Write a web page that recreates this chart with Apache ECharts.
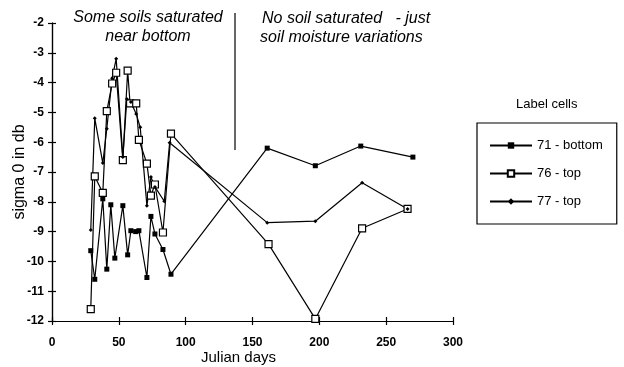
<!DOCTYPE html>
<html>
<head>
<meta charset="utf-8">
<script src="https://cdn.jsdelivr.net/npm/echarts@6/dist/echarts.min.js"></script>
<style>html,body{margin:0;padding:0;background:#fff}#c{width:624px;height:367px}</style>
</head>
<body>
<div id="c"></div>
<script>
const days71 = [29, 32, 38, 41, 44, 47, 53, 56.6, 59, 62.6, 65, 71, 74, 77, 83, 89, 161, 197, 231, 270];
const vals71 = [-9.64, -10.6, -7.9, -10.26, -8.1, -9.89, -8.13, -9.78, -8.97, -9.0, -8.97, -10.54, -8.49, -9.08, -9.6, -10.43, -6.2, -6.79, -6.13, -6.5];
const days76 = [29, 32, 38, 41, 45, 48, 53, 56.6, 58.4, 63, 65, 71, 74, 77, 83, 89, 162, 197, 232, 266];
const vals76 = [-11.6, -7.15, -7.7, -4.96, -4.03, -3.67, -6.6, -3.6, -4.7, -4.7, -5.92, -6.72, -7.79, -7.42, -9.03, -5.71, -9.42, -11.93, -8.89, -8.24];
const days77 = [29, 32, 38, 41, 45, 48, 53, 56, 59, 63, 66, 71, 74, 77, 84, 88, 161, 197, 232, 266];
const vals77 = [-8.95, -5.2, -6.7, -5.55, -3.85, -3.2, -6.5, -4.55, -4.65, -5.05, -5.5, -8.13, -7.17, -7.5, -7.98, -6.02, -8.7, -8.65, -7.36, -8.24];
const seriesNames = ['71 - bottom', '76 - top', '77 - top'];
const xTicks = {min: 0, max: 300, interval: 50};
const yTicks = {min: -12, max: -2, interval: 1};

const pairs = (d, v) => d.map((x, i) => [x, v[i]]);
const font = 'Liberation Sans, Arial, sans-serif';
const lineStyle = {color: '#000', width: 1.2};

const chart = echarts.init(document.getElementById('c'), null, {renderer: 'canvas'});
const baseX = {
  type: 'value', min: xTicks.min, max: xTicks.max, interval: xTicks.interval,
  axisLine: {show: true, onZero: false, lineStyle: {color: '#000', width: 1.2}},
  splitLine: {show: false}
};
const baseY = {
  type: 'value', min: yTicks.min, max: yTicks.max, interval: yTicks.interval,
  axisLine: {show: true, onZero: false, lineStyle: {color: '#000', width: 1.2}},
  splitLine: {show: false}
};
chart.setOption({
  animation: false,
  backgroundColor: '#fff',
  textStyle: {fontFamily: font, color: '#000'},
  grid: {left: 52, right: 171, top: 23, bottom: 46, containLabel: false, outerBoundsMode: 'none'},
  xAxis: [
    Object.assign({}, baseX, {
      position: 'bottom',
      name: 'Julian days', nameLocation: 'middle', nameGap: 29, nameMoveOverlap: false,
      nameTextStyle: {fontFamily: font, fontSize: 15, color: '#000', padding: [0, 28, 0, 0]},
      axisTick: {show: true, length: 4, lineStyle: {color: '#000', width: 1.2}},
      axisLabel: {fontFamily: font, fontSize: 12, color: '#000', margin: 16, fontWeight: 'bold'}
    }),
    Object.assign({}, baseX, {
      position: 'bottom',
      axisTick: {show: true, inside: true, length: 4, lineStyle: {color: '#000', width: 1.2}},
      axisLabel: {show: false}
    })
  ],
  yAxis: [
    Object.assign({}, baseY, {
      position: 'left',
      name: 'sigma 0 in db', nameLocation: 'middle', nameGap: 24, nameRotate: 90, nameMoveOverlap: false,
      nameTextStyle: {fontFamily: font, fontSize: 16, color: '#000'},
      axisTick: {show: true, length: 4, lineStyle: {color: '#000', width: 1.2}},
      axisLabel: {fontFamily: font, fontSize: 12, color: '#000', margin: 8, fontWeight: 'bold'}
    }),
    Object.assign({}, baseY, {
      position: 'left',
      axisTick: {show: true, inside: true, length: 4, lineStyle: {color: '#000', width: 1.2}},
      axisLabel: {show: false}
    })
  ],
  legend: {
    orient: 'vertical', left: 477, top: 123,
    padding: [16, 14, 16, 12], itemGap: 15, itemWidth: 42, itemHeight: 8,
    borderColor: '#000', borderWidth: 1.2, borderRadius: 0,
    textStyle: {fontFamily: font, fontSize: 13, color: '#000'},
    data: seriesNames
  },
  graphic: [
    {type: 'text', left: 516, top: 98, style: {text: 'Label cells', font: '13px ' + font, fill: '#000'}},
    {type: 'line', shape: {x1: 235, y1: 13, x2: 235, y2: 150}, style: {stroke: '#000', lineWidth: 1.2}},
    {type: 'text', x: 148, y: 18, style: {text: 'Some soils saturated', font: 'italic 16px ' + font, fill: '#000', align: 'center', verticalAlign: 'middle'}},
    {type: 'text', x: 148, y: 37, style: {text: 'near bottom', font: 'italic 16px ' + font, fill: '#000', align: 'center', verticalAlign: 'middle'}},
    {type: 'text', x: 262, y: 19, style: {text: 'No soil saturated   - just', font: 'italic 16px ' + font, fill: '#000', align: 'left', verticalAlign: 'middle'}},
    {type: 'text', x: 260, y: 38, style: {text: 'soil moisture variations', font: 'italic 16px ' + font, fill: '#000', align: 'left', verticalAlign: 'middle'}}
  ],
  series: [
    {name: seriesNames[0], type: 'line', data: pairs(days71, vals71), symbol: 'rect', symbolSize: 5,
      itemStyle: {color: '#000'}, lineStyle: lineStyle, clip: false},
    {name: seriesNames[1], type: 'line', data: pairs(days76, vals76), symbol: 'rect', symbolSize: 7,
      itemStyle: {color: '#fff', borderColor: '#000', borderWidth: 1.2}, lineStyle: lineStyle, clip: false, z: 3},
    {name: seriesNames[2], type: 'line', data: pairs(days77, vals77), symbol: 'diamond', symbolSize: 4,
      itemStyle: {color: '#000'}, lineStyle: lineStyle, clip: false}
  ]
});
</script>
</body>
</html>
